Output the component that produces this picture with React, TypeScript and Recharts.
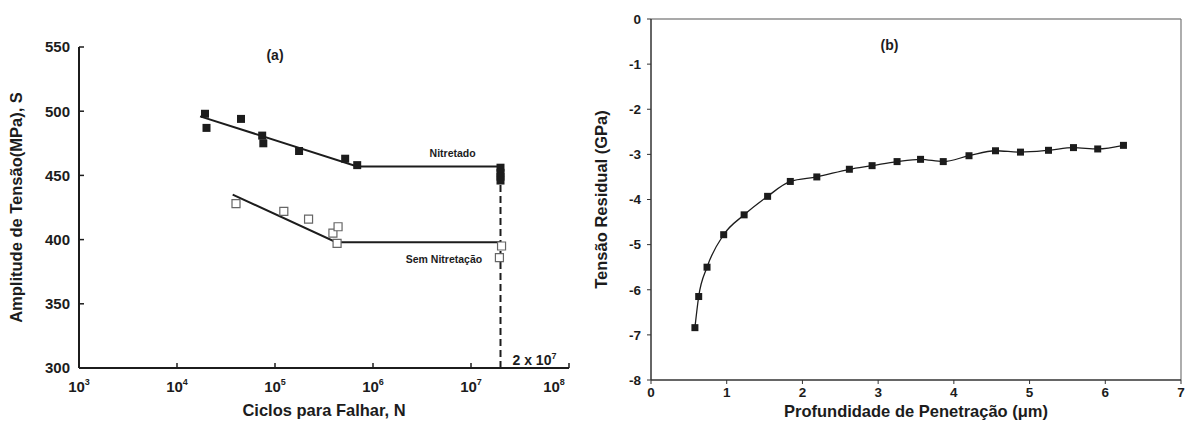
import {
  ScatterChart,
  Scatter,
  LineChart,
  Line,
  XAxis,
  YAxis,
  ReferenceLine,
  ReferenceDot,
} from "recharts"

const FONT = '"Liberation Sans", Arial, sans-serif'
const INK = "#1c1c1c"

// (a) S-N curve
const nitCycles = [1.93e4, 2.0e4, 4.5e4, 7.4e4, 7.6e4, 1.76e5, 5.2e5, 6.9e5, 2.0e7, 2.0e7, 2.0e7, 2.0e7]
const nitStress = [498, 487, 494, 481, 475, 469, 463, 458, 456, 452, 449, 446]
const semCycles = [4.0e4, 1.23e5, 2.2e5, 3.9e5, 4.4e5, 4.3e5, 2.05e7, 1.95e7]
const semStress = [428, 422, 416, 405, 410, 397, 395, 386]
const nitFitCycles = [1.72e4, 6.9e5, 2.0e7]
const nitFitStress = [496, 457, 457]
const semFitCycles = [3.7e4, 4.2e5, 2.0e7]
const semFitStress = [435, 398, 398]
const cycleTicks = [1e3, 1e4, 1e5, 1e6, 1e7, 1e8]
const stressTicks = [300, 350, 400, 450, 500, 550]
const runoutCycles = 2e7

// (b) residual stress profile
const depth = [0.58, 0.63, 0.74, 0.96, 1.23, 1.54, 1.84, 2.19, 2.62, 2.92, 3.25, 3.56, 3.86, 4.2, 4.55, 4.88, 5.25, 5.58, 5.9, 6.24]
const residual = [-6.84, -6.15, -5.5, -4.78, -4.34, -3.93, -3.6, -3.5, -3.33, -3.25, -3.16, -3.11, -3.16, -3.03, -2.92, -2.95, -2.91, -2.85, -2.88, -2.8]
const depthTicks = [0, 1, 2, 3, 4, 5, 6, 7]
const residualTicks = [-8, -7, -6, -5, -4, -3, -2, -1, 0]

const zip = (xs: number[], ys: number[]) => xs.map((x, i) => ({ x, y: ys[i] }))

const nitData = zip(nitCycles, nitStress)
const semData = zip(semCycles, semStress)
const nitFit = zip(nitFitCycles, nitFitStress)
const semFit = zip(semFitCycles, semFitStress)
const profile = depth.map((d, i) => ({ d, s: residual[i] }))

const tickA = { fontSize: 15, fontWeight: "bold", fill: INK, fontFamily: FONT }
const tickB = { fontSize: 13.5, fontWeight: "bold", fill: INK, fontFamily: FONT }

const PowerTick = (p: any) => {
  const exp = Math.round(Math.log10(p.payload.value))
  return (
    <text x={p.x} y={p.y + 15} textAnchor="middle" fontFamily={FONT} fontSize={15} fontWeight="bold" fill={INK}>
      10
      <tspan dy={-7} fontSize={9}>
        {exp}
      </tspan>
    </text>
  )
}

const yTitle = (text: string, x: number) => (props: any) => {
  const vb = props.viewBox
  const cy = vb.y + vb.height / 2
  return (
    <text x={x} y={cy} transform={`rotate(-90 ${x} ${cy})`} textAnchor="middle" fontFamily={FONT} fontSize={16.5} fontWeight="bold" fill={INK}>
      {text}
    </text>
  )
}

const xTitle = (text: string, y: number) => (props: any) => {
  const vb = props.viewBox
  const cx = vb.x + vb.width / 2
  return (
    <text x={cx} y={y} textAnchor="middle" fontFamily={FONT} fontSize={16.5} fontWeight="bold" fill={INK}>
      {text}
    </text>
  )
}

const note = (text: string, size: number) => ({
  value: text,
  position: "center" as const,
  fontSize: size,
  fontWeight: "bold",
  fill: INK,
  fontFamily: FONT,
})

const RunoutLabel = (props: any) => {
  const { x, y } = props.viewBox
  return (
    <text x={x + 12} y={y - 3} fontFamily={FONT} fontSize={14} fontWeight="bold" fill={INK}>
      2 x 10
      <tspan dy={-6} fontSize={9}>
        7
      </tspan>
    </text>
  )
}

const hidePoint = () => <g />

const SquareDot = (p: any) => {
  if (p.cx == null || p.cy == null) return <g key={p.key} />
  return <rect key={p.key} x={p.cx - 3.5} y={p.cy - 3.5} width={7} height={7} fill={INK} />
}

function FatigueChart() {
  return (
    <ScatterChart width={590} height={429} margin={{ top: 47, right: 21, bottom: 21, left: 14 }}>
      <XAxis
        type="number"
        dataKey="x"
        scale="log"
        domain={[1e3, 1e8]}
        ticks={cycleTicks}
        allowDataOverflow
        height={40}
        stroke={INK}
        axisLine={{ stroke: INK, strokeWidth: 2 }}
        tickLine={{ stroke: INK, strokeWidth: 1.5 }}
        tickSize={-5}
        tickMargin={14}
        tick={PowerTick}
        label={xTitle("Ciclos para Falhar, N", 416)}
      />
      <YAxis
        type="number"
        dataKey="y"
        domain={[300, 550]}
        ticks={stressTicks}
        allowDataOverflow
        width={65}
        axisLine={{ stroke: INK, strokeWidth: 2 }}
        tickLine={{ stroke: INK, strokeWidth: 1.5 }}
        tickSize={-5}
        tickMargin={14}
        tick={tickA}
        label={yTitle("Amplitude de Tensão(MPa), S", 22)}
      />
      <ReferenceLine
        segment={[
          { x: runoutCycles, y: 300 },
          { x: runoutCycles, y: 457 },
        ]}
        stroke={INK}
        strokeWidth={2}
        strokeDasharray="7 4"
      />
      <Scatter data={nitFit} line={{ stroke: INK, strokeWidth: 2 }} shape={hidePoint} isAnimationActive={false} />
      <Scatter data={semFit} line={{ stroke: INK, strokeWidth: 2 }} shape={hidePoint} isAnimationActive={false} />
      <Scatter data={nitData} shape="square" fill={INK} isAnimationActive={false} />
      <Scatter data={semData} shape="square" fill="#fff" stroke="#666" strokeWidth={1.2} isAnimationActive={false} />
      <ReferenceDot x={1e5} y={543.5} r={0} fill="none" stroke="none" label={note("(a)", 14)} />
      <ReferenceDot x={6.5e6} y={467} r={0} fill="none" stroke="none" label={note("Nitretado", 10.5)} />
      <ReferenceDot x={5.3e6} y={385} r={0} fill="none" stroke="none" label={note("Sem Nitretação", 10.5)} />
      <ReferenceDot x={runoutCycles} y={300} r={0} fill="none" stroke="none" label={RunoutLabel} />
    </ScatterChart>
  )
}

function ResidualChart() {
  return (
    <LineChart width={596} height={429} data={profile} margin={{ top: 19, right: 5, bottom: 9, left: 10 }}>
      <XAxis
        type="number"
        dataKey="d"
        domain={[0, 7]}
        ticks={depthTicks}
        height={40}
        axisLine={{ stroke: "#333", strokeWidth: 1.5 }}
        tickLine={{ stroke: "#333" }}
        tickSize={4}
        tickMargin={3}
        tick={tickB}
        label={xTitle("Profundidade de Penetração (μm)", 417)}
      />
      <YAxis
        type="number"
        domain={[-8, 0]}
        ticks={residualTicks}
        width={51}
        axisLine={{ stroke: "#333", strokeWidth: 1.5 }}
        tickLine={{ stroke: "#333" }}
        tickSize={4}
        tickMargin={6}
        tick={tickB}
        label={yTitle("Tensão Residual (GPa)", 17)}
      />
      <ReferenceLine y={0} stroke="#555" strokeWidth={1.2} />
      <ReferenceLine x={7} stroke="#777" strokeWidth={1.2} />
      <ReferenceDot x={3.15} y={-0.58} r={0} fill="none" stroke="none" label={note("(b)", 14)} />
      <Line
        type="monotone"
        dataKey="s"
        stroke={INK}
        strokeWidth={1.3}
        dot={SquareDot}
        activeDot={false}
        isAnimationActive={false}
      />
    </LineChart>
  )
}

export default function App() {
  return (
    <div style={{ position: "absolute", left: 0, top: 0, width: 1186, height: 429, background: "#fff" }}>
      <div style={{ position: "absolute", left: 0, top: 0 }}>
        <FatigueChart />
      </div>
      <div style={{ position: "absolute", left: 590, top: 0 }}>
        <ResidualChart />
      </div>
    </div>
  )
}
